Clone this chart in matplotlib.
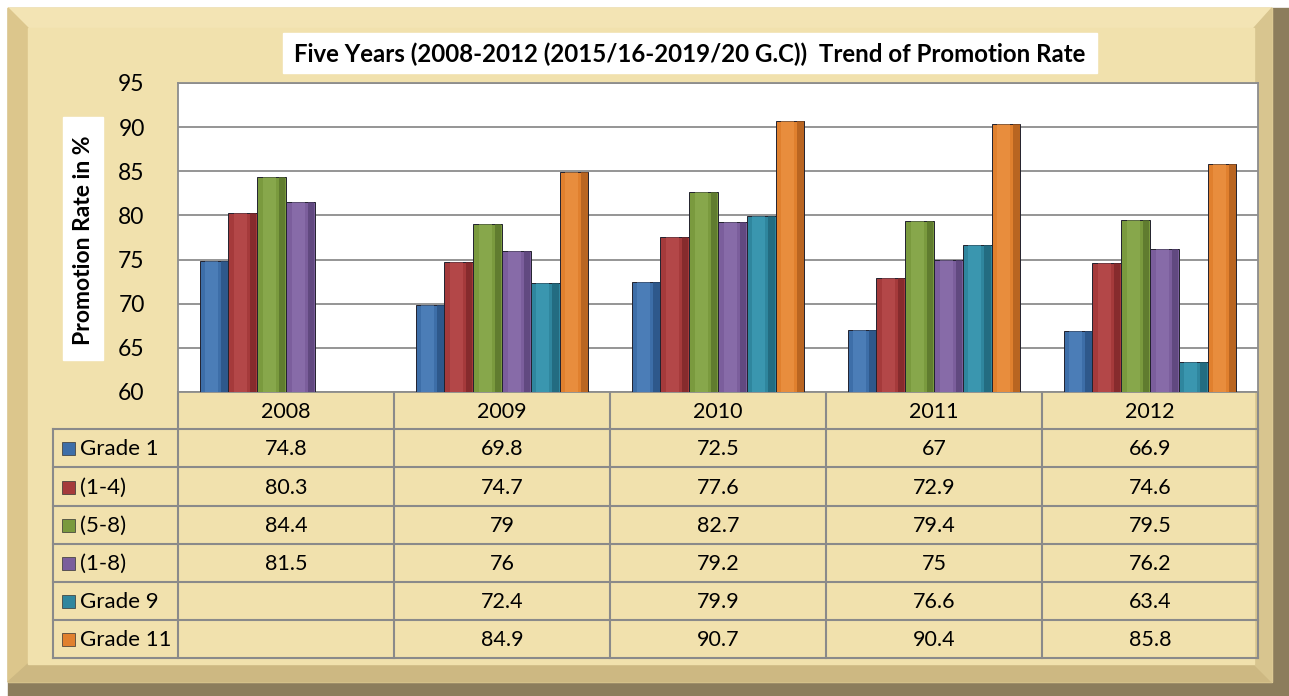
import numpy as np
import matplotlib.pyplot as plt
from matplotlib.patches import Rectangle, Polygon

plt.rcParams['font.family'] = ['Lato', 'DejaVu Sans']

# chart data
years = ['2008', '2009', '2010', '2011', '2012']
series_names = ['Grade 1', '(1-4)', '(5-8)', '(1-8)', 'Grade 9', 'Grade 11']
grade1 = [74.8, 69.8, 72.5, 67, 66.9]
g1_4 = [80.3, 74.7, 77.6, 72.9, 74.6]
g5_8 = [84.4, 79, 82.7, 79.4, 79.5]
g1_8 = [81.5, 76, 79.2, 75, 76.2]
grade9 = [np.nan, 72.4, 79.9, 76.6, 63.4]
grade11 = [np.nan, 84.9, 90.7, 90.4, 85.8]
yticks = [60, 65, 70, 75, 80, 85, 90, 95]

series = [grade1, g1_4, g5_8, g1_8, grade9, grade11]
colors = ['#3d6ea8', '#a53a3b', '#7a9a3e', '#7b5e9c', '#2f869e', '#e0802e']
lights = ['#5a8cc6', '#c25455', '#95b558', '#9479b5', '#45a6c0', '#f09a4c']
darks = ['#28507f', '#7a2628', '#56702a', '#574175', '#1f6275', '#a95a1c']

W, H = 1289, 696
fig = plt.figure(figsize=(W / 100, H / 100), dpi=100)
fig.patch.set_facecolor('white')

# background board in pixel coordinates
bg = fig.add_axes([0, 0, 1, 1])
bg.set_xlim(0, W)
bg.set_ylim(H, 0)
bg.axis('off')
bg.add_patch(Rectangle((8, 8), W - 8, H - 8, color='#8c7d5c', zorder=0))
bg.add_patch(Polygon([(8, 8), (W - 17, 8), (W - 17, H - 14), (8, H - 14)],
                     closed=True, color='#e9d79f', zorder=0))
bg.add_patch(Polygon([(8, 8), (W - 17, 8), (W - 35, 28), (28, 28)],
                     closed=True, color='#f3e4b4', zorder=0))
bg.add_patch(Polygon([(8, 8), (28, 28), (28, H - 32), (8, H - 14)],
                     closed=True, color='#dcc68c', zorder=0))
bg.add_patch(Polygon([(8, H - 14), (28, H - 32), (W - 35, H - 32), (W - 17, H - 14)],
                     closed=True, color='#cdb882', zorder=0))
bg.add_patch(Polygon([(W - 17, 8), (W - 35, 28), (W - 35, H - 32), (W - 17, H - 14)],
                     closed=True, color='#d8c58f', zorder=0))
bg.add_patch(Rectangle((28, 28), W - 63, H - 60, color='#f1e1ad', zorder=0))

# title and y label boxes
bg.add_patch(Rectangle((283, 33), 814, 40, color='white', zorder=1))
bg.text(690, 54, 'Five Years (2008-2012 (2015/16-2019/20 G.C))  Trend of Promotion Rate',
        ha='center', va='center', fontsize=17.3, fontweight='bold', color='black', zorder=2)
bg.add_patch(Rectangle((63, 117), 40, 243, color='white', zorder=1))
bg.text(84, 240, 'Promotion Rate in %', ha='center', va='center', rotation=90,
        rotation_mode='anchor', fontsize=16.5, fontweight='bold', color='black', zorder=2)

# chart
left, right, top, bottom = 178, 1258, 83, 392
ax = fig.add_axes([left / W, 1 - bottom / H, (right - left) / W, (bottom - top) / H])
ax.set_facecolor('white')
x = np.arange(len(years))
w = 0.8 / len(series)
for j, vals in enumerate(series):
    pos = x + (j - 2.5) * w
    ax.bar(pos, vals, width=w, bottom=0, color=colors[j], edgecolor='#22222e',
           linewidth=0.7, zorder=3)
    ax.bar(pos + w * 0.36, vals, width=w * 0.22, bottom=0, color=darks[j],
           linewidth=0, alpha=0.7, zorder=4)
    ax.bar(pos - w * 0.08, vals, width=w * 0.45, bottom=0, color=lights[j],
           linewidth=0, alpha=0.5, zorder=4)
ax.set_xlim(-0.5, len(years) - 0.5)
ax.set_ylim(60, 95)
ax.set_yticks(yticks)
ax.set_yticklabels([str(t) for t in yticks], fontsize=16.5)
ax.tick_params(axis='y', length=0, pad=24)
ax.set_xticks([])
ax.grid(axis='y', color='#8c8c8c', linewidth=1.3, zorder=1)
for s in ax.spines.values():
    s.set_color('#8c8c8c')
    s.set_linewidth(1.3)

# data table below the chart
row_lines = [429, 467, 506, 544, 582, 620, 658]
col_lines = [left + (right - left) * k / len(years) for k in range(len(years) + 1)]
line_kw = dict(color='#8a8a8a', linewidth=1.5, zorder=2)
for yl in row_lines:
    bg.plot([53, right], [yl, yl], **line_kw)
bg.plot([53, 53], [row_lines[0], row_lines[-1]], **line_kw)
for xc in col_lines:
    bg.plot([xc, xc], [bottom, row_lines[-1]], **line_kw)

for k, yr in enumerate(years):
    cx = (col_lines[k] + col_lines[k + 1]) / 2
    bg.text(cx, (bottom + row_lines[0]) / 2 + 2, yr, ha='center', va='center',
            fontsize=15.5, color='black', zorder=3)

for j, name in enumerate(series_names):
    cy = (row_lines[j] + row_lines[j + 1]) / 2
    bg.add_patch(Rectangle((62, cy - 6), 13, 13, facecolor=colors[j],
                           edgecolor='#333333', linewidth=0.5, zorder=3))
    bg.text(80, cy + 1, name, ha='left', va='center', fontsize=16, color='black', zorder=3)
    for k, v in enumerate(series[j]):
        if np.isnan(v):
            continue
        cx = (col_lines[k] + col_lines[k + 1]) / 2
        bg.text(cx, cy + 1, f'{v:g}', ha='center', va='center', fontsize=15.5,
                color='black', zorder=3)

fig.savefig('out.png', dpi=100, facecolor=fig.get_facecolor())
